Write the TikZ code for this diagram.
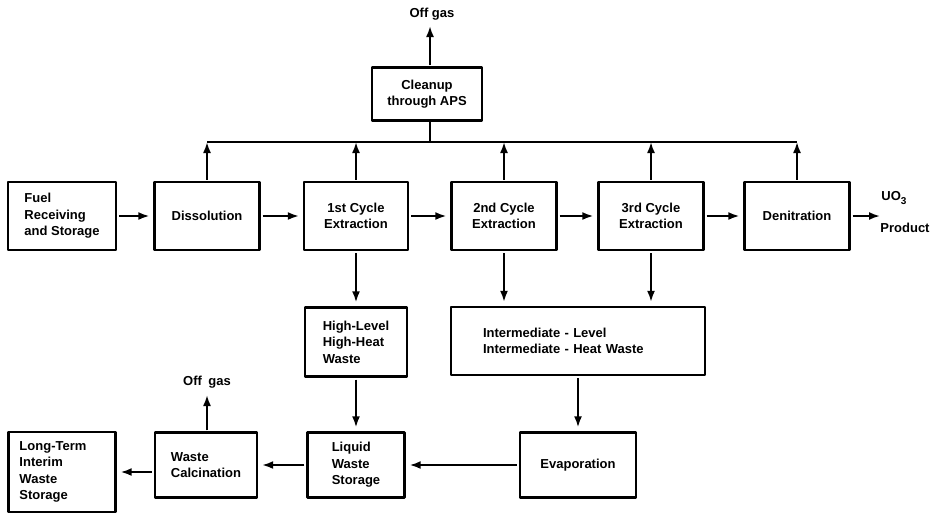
\documentclass[tikz,border=0pt]{standalone}
\usepackage{fontspec}
\setmainfont{Liberation Sans}
\usetikzlibrary{arrows.meta,positioning}

\begin{document}
\begin{tikzpicture}[x=1pt, y=-1pt, >={Latex[length=11pt,width=8pt]}, line join=round,
  box/.style={draw, line width=2.4pt, inner sep=0pt, font=\fontsize{13}{16.5}\selectfont\bfseries, align=center},
  lbox/.style={box, align=left},
  flow/.style={->, line width=1.9pt, shorten <=2pt, shorten >=4pt},
  uplink/.style={->, line width=1.9pt, shorten <=1pt},
  lbl/.style={font=\fontsize{13}{16.5}\selectfont\bfseries, inner sep=0pt}]
  \useasboundingbox (0,0) rectangle (934,514);

  % off gas cleanup
  \node[box, minimum width=110pt, minimum height=53pt] (clean) at (427,94) {Cleanup\\through APS};
  \node[lbl] (offtop) at (432,14) {Off gas};
  \coordinate (offtip) at (430,26);
  \draw[uplink] (clean.north -| offtip) -- (offtip);

  % main process line
  \node[lbox, minimum width=108pt, minimum height=68pt] (fuel) at (62,216) {Fuel\\Receiving\\and Storage};
  \node[box, minimum width=105pt, minimum height=68pt] (diss) at (207,216) {Dissolution};
  \node[box, minimum width=104pt, minimum height=68pt] (cyc1) at (356,216) {1st Cycle\\Extraction};
  \node[box, minimum width=105pt, minimum height=68pt] (cyc2) at (504,216) {2nd Cycle\\Extraction};
  \node[box, minimum width=105pt, minimum height=68pt] (cyc3) at (651,216) {3rd Cycle\\Extraction};
  \node[box, minimum width=105pt, minimum height=68pt] (deni) at (797,216) {Denitration};
  \node[lbl] (uo) at (894,198) {UO\raisebox{-0.45ex}{\fontsize{10}{10}\selectfont 3}};
  \node[lbl] (prod) at (905,228) {Product};
  \coordinate (uoend) at (884,216);

  \draw[flow] (fuel) -- (diss);
  \draw[flow] (diss) -- (cyc1);
  \draw[flow] (cyc1) -- (cyc2);
  \draw[flow] (cyc2) -- (cyc3);
  \draw[flow] (cyc3) -- (deni);
  \draw[flow] (deni) -- (uoend);

  % vent header
  \coordinate (busL) at (207,142);
  \coordinate (busR) at (797,142);
  \draw[line width=1.9pt] (busL) -- (busR);
  \draw[line width=1.9pt] (clean.south -| offtip) -- (offtip |- busL);
  \foreach \n in {diss,cyc1,cyc2,cyc3,deni}
    \draw[uplink] (\n.north) -- (\n.north |- busL);

  % waste streams
  \node[lbox, minimum width=102pt, minimum height=69pt] (hlw) at (356,342) {High-Level\\High-Heat\\Waste};
  \node[lbox, minimum width=254pt, minimum height=68pt, text width=190pt] (ilw) at (578,341) {Intermediate - Level\\Intermediate - Heat Waste};
  \draw[flow] (cyc1.south) -- (hlw.north);
  \draw[flow] (cyc2.south) -- (cyc2.south |- ilw.north);
  \draw[flow] (cyc3.south) -- (cyc3.south |- ilw.north);

  \node[box, minimum width=116pt, minimum height=65pt] (evap) at (578,465) {Evaporation};
  \node[lbox, minimum width=97pt, minimum height=65pt] (liq) at (356,465) {Liquid\\Waste\\Storage};
  \node[lbox, minimum width=102pt, minimum height=65pt] (calc) at (206,465) {Waste\\Calcination};
  \node[lbox, minimum width=107pt, minimum height=80pt, text width=85pt] (store) at (62,472) {Long-Term\\Interim\\Waste\\Storage};
  \node[lbl] (offlow) at (207,382) {Off\enspace gas};
  \coordinate (offlowtip) at (207,395);

  \draw[flow] (ilw.south -| evap.north) -- (evap.north);
  \draw[flow] (hlw.south) -- (liq.north);
  \draw[flow] (evap.west) -- (liq.east |- evap.west);
  \draw[flow] (liq.west) -- (calc.east |- liq.west);
  \draw[flow] (calc.west |- store.east) -- (store.east);
  \draw[uplink] (calc.north -| offlowtip) -- (offlowtip);
\end{tikzpicture}
\end{document}
